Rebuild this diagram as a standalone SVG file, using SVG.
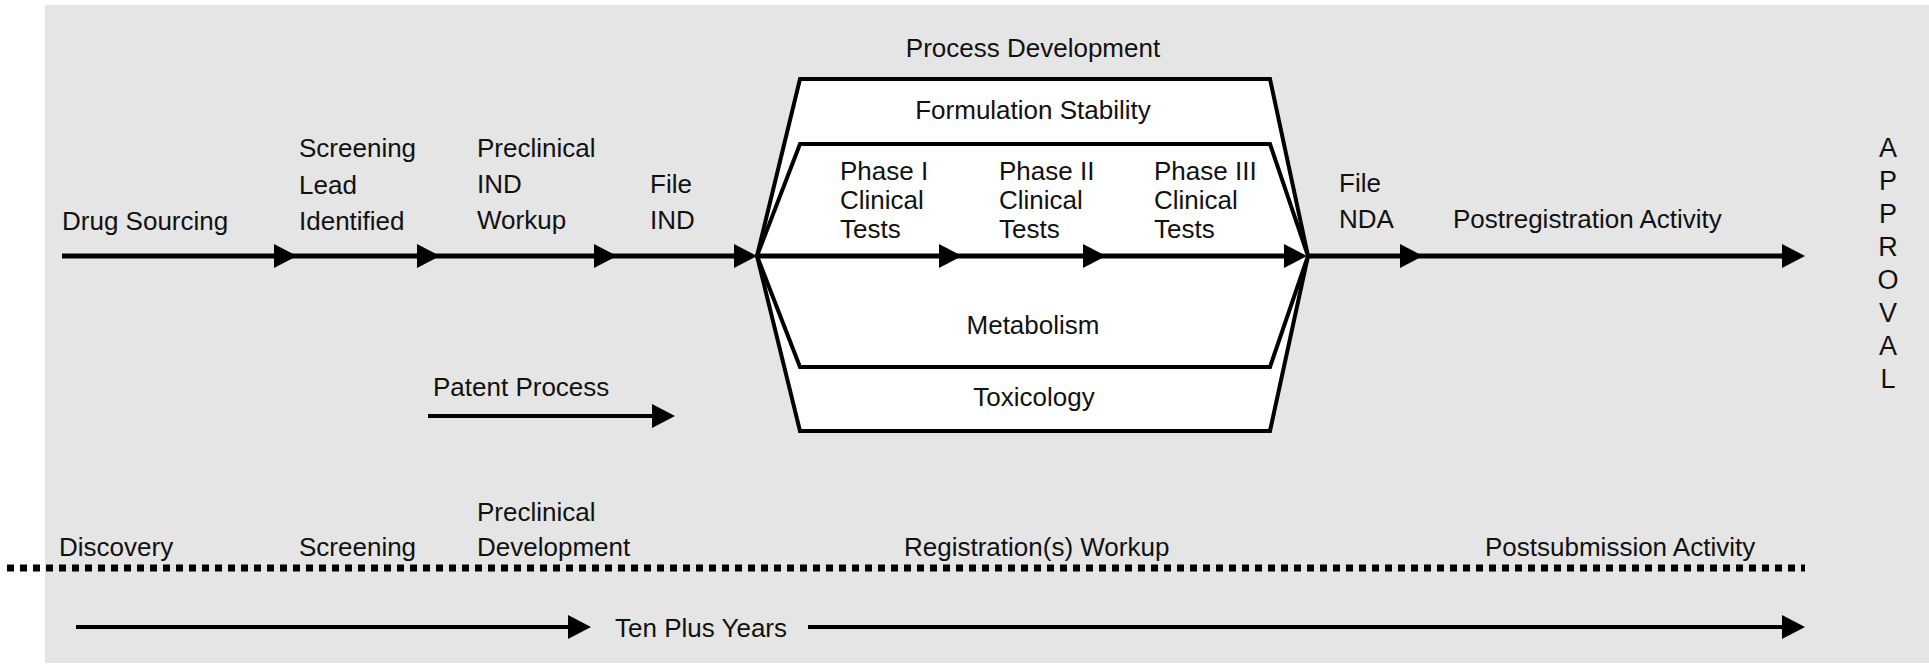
<svg xmlns="http://www.w3.org/2000/svg" width="1929" height="665" viewBox="0 0 1929 665">
  <defs>
    <marker id="arrow" markerUnits="userSpaceOnUse" markerWidth="24" markerHeight="26" refX="13" refY="12" orient="auto">
      <path d="M0,0 L23,12 L0,24 Z" fill="#000"/>
    </marker>
    <style>
      text { font-family: "Liberation Sans", Arial, sans-serif; font-size: 26px; fill: #111; }
      .mid { text-anchor: middle; }
      .main { stroke: #000; stroke-width: 5; fill: none; marker-end: url(#arrow); }
      .thin { stroke: #000; stroke-width: 4; fill: none; marker-end: url(#arrow); }
      .hex { fill: #fff; stroke: #000; stroke-width: 4; stroke-linejoin: miter; }
      .dots { stroke: #000; stroke-width: 7; stroke-dasharray: 7 6; fill: none; }
      .ap { font-size: 27px; }
    </style>
  </defs>

  <rect x="0" y="0" width="1929" height="665" fill="#fff"/>
  <rect x="45" y="5" width="1884" height="658" fill="#e5e5e5"/>

  <g id="hexagon">
    <polygon class="hex" points="757,256 800,79 1270,79 1308,256 1270,431 800,431"/>
    <polygon class="hex" points="757,256 800,144 1270,144 1308,256 1270,367 800,367"/>
  </g>

  <g id="connectors">
    <line class="main" x1="62" y1="256" x2="287" y2="256"/>
    <line class="main" x1="285" y1="256" x2="430" y2="256"/>
    <line class="main" x1="428" y1="256" x2="607" y2="256"/>
    <line class="main" x1="605" y1="256" x2="747" y2="256"/>
    <line class="main" x1="757" y1="256" x2="952" y2="256"/>
    <line class="main" x1="950" y1="256" x2="1096" y2="256"/>
    <line class="main" x1="1094" y1="256" x2="1297" y2="256"/>
    <line class="main" x1="1308" y1="256" x2="1413" y2="256"/>
    <line class="main" x1="1411" y1="256" x2="1795" y2="256"/>
    <line class="thin" x1="428" y1="416" x2="665" y2="416"/>
    <line class="thin" x1="76" y1="627" x2="581" y2="627"/>
    <line class="thin" x1="808" y1="627" x2="1795" y2="627"/>
    <line class="dots" x1="7" y1="568" x2="1805" y2="568"/>
  </g>

  <g id="drug-sourcing"><text x="62" y="230">Drug Sourcing</text></g>
  <g id="screening-lead"><text x="299" y="157">Screening</text><text x="299" y="194">Lead</text><text x="299" y="230">Identified</text></g>
  <g id="preclinical-ind"><text x="477" y="157">Preclinical</text><text x="477" y="193">IND</text><text x="477" y="229">Workup</text></g>
  <g id="file-ind"><text x="650" y="193">File</text><text x="650" y="229">IND</text></g>
  <g id="process-development"><text class="mid" x="1033" y="57">Process Development</text></g>
  <g id="formulation-stability"><text class="mid" x="1033" y="119">Formulation Stability</text></g>
  <g id="phase1"><text x="840" y="180">Phase I</text><text x="840" y="209">Clinical</text><text x="840" y="238">Tests</text></g>
  <g id="phase2"><text x="999" y="180">Phase II</text><text x="999" y="209">Clinical</text><text x="999" y="238">Tests</text></g>
  <g id="phase3"><text x="1154" y="180">Phase III</text><text x="1154" y="209">Clinical</text><text x="1154" y="238">Tests</text></g>
  <g id="metabolism"><text class="mid" x="1033" y="334">Metabolism</text></g>
  <g id="toxicology"><text class="mid" x="1034" y="406">Toxicology</text></g>
  <g id="file-nda"><text x="1339" y="192">File</text><text x="1339" y="228">NDA</text></g>
  <g id="postregistration"><text x="1453" y="228">Postregistration Activity</text></g>
  <g id="approval">
    <text class="mid ap" x="1888" y="157">A</text>
    <text class="mid ap" x="1888" y="190">P</text>
    <text class="mid ap" x="1888" y="223">P</text>
    <text class="mid ap" x="1888" y="256">R</text>
    <text class="mid ap" x="1888" y="289">O</text>
    <text class="mid ap" x="1888" y="322">V</text>
    <text class="mid ap" x="1888" y="355">A</text>
    <text class="mid ap" x="1888" y="388">L</text>
  </g>
  <g id="patent-process"><text x="433" y="396">Patent Process</text></g>

  <g id="discovery"><text x="59" y="556">Discovery</text></g>
  <g id="screening"><text x="299" y="556">Screening</text></g>
  <g id="preclinical-development"><text x="477" y="521">Preclinical</text><text x="477" y="556">Development</text></g>
  <g id="registration-workup"><text x="904" y="556">Registration(s) Workup</text></g>
  <g id="postsubmission"><text x="1485" y="556">Postsubmission Activity</text></g>
  <g id="ten-plus-years"><text x="615" y="637">Ten Plus Years</text></g>
</svg>
